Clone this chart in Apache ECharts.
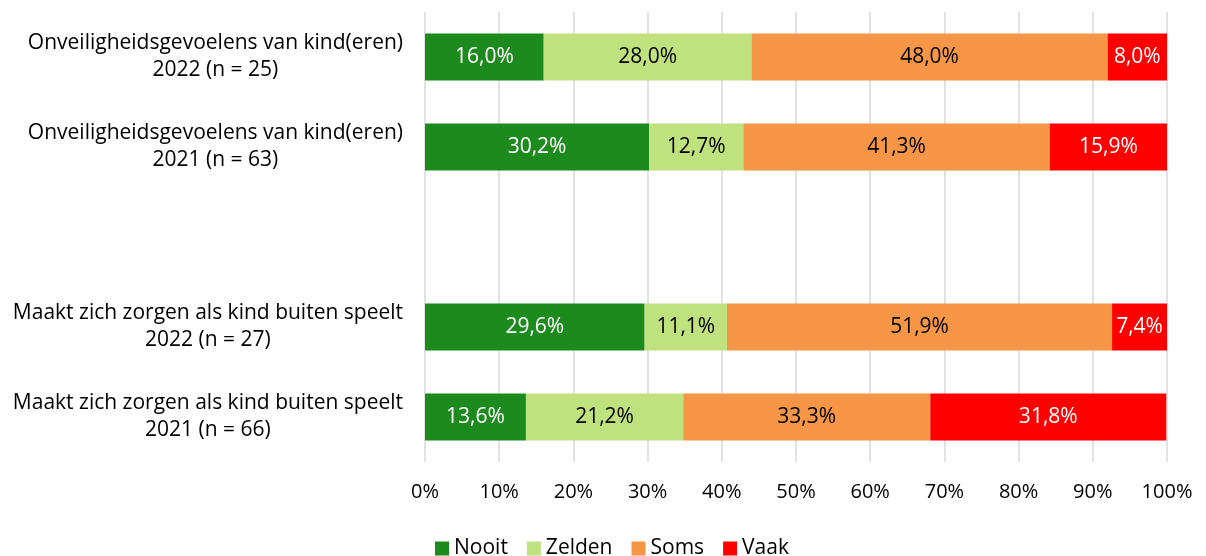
<!DOCTYPE html>
<html>
<head>
<meta charset="utf-8">
<script src="https://cdn.jsdelivr.net/npm/echarts@6/dist/echarts.min.js"></script>
<style>html,body{margin:0;padding:0;background:#fff}#c{width:1206px;height:556px}</style>
</head>
<body>
<div id="c"></div>
<script>
const categories = [
  ['Onveiligheidsgevoelens van kind(eren)', '2022 (n = 25)'],
  ['Onveiligheidsgevoelens van kind(eren)', '2021 (n = 63)'],
  ['', ''],
  ['Maakt zich zorgen als kind buiten speelt', '2022 (n = 27)'],
  ['Maakt zich zorgen als kind buiten speelt', '2021 (n = 66)']
];
const nooit  = [16.0, 30.2, '-', 29.6, 13.6];
const zelden = [28.0, 12.7, '-', 11.1, 21.2];
const soms   = [48.0, 41.3, '-', 51.9, 33.3];
const vaak   = [8.0, 15.9, '-', 7.4, 31.8];
const seriesNames = ['Nooit', 'Zelden', 'Soms', 'Vaak'];
const xTicks = [0, 10, 20, 30, 40, 50, 60, 70, 80, 90, 100];

const FONT = 'Open Sans';
const colors = ['#1D8A1E', '#BFE27E', '#F79646', '#FF0000'];
const labelColors = ['#fff', '#000', '#000', '#fff'];
const values = [nooit, zelden, soms, vaak];

const chart = echarts.init(document.getElementById('c'));
chart.setOption({
  animation: false,
  textStyle: { fontFamily: FONT },
  grid: { left: 425, right: 39, top: 12, bottom: 94, containLabel: false },
  legend: {
    top: 533, left: 430,
    data: seriesNames,
    icon: 'rect', itemWidth: 14, itemHeight: 14, itemGap: 19,
    textStyle: { fontFamily: FONT, fontSize: 21, color: '#000' }
  },
  xAxis: {
    type: 'value', min: 0, max: 100, interval: 10,
    axisLine: { show: false }, axisTick: { show: false },
    splitLine: { show: true, lineStyle: { color: '#D9D9D9', width: 1.5 } },
    axisLabel: { fontFamily: FONT, fontSize: 20, color: '#000', margin: 20,
      formatter: v => xTicks.includes(v) ? v + '%' : '' }
  },
  yAxis: {
    type: 'category', inverse: true,
    data: categories.map(c => c[0] + '\n' + c[1]),
    axisLine: { show: false }, axisTick: { show: false },
    axisLabel: {
      margin: 22, align: 'right',
      formatter: v => v.split('\n').map(s => '{a|' + s + '}').join('\n'),
      rich: { a: { align: 'center', fontFamily: FONT, fontSize: 21, color: '#000', lineHeight: 27 } }
    }
  },
  series: seriesNames.map((n, i) => ({
    name: n, type: 'bar', stack: 'total', barWidth: 47,
    data: values[i],
    itemStyle: { color: colors[i] },
    label: {
      show: true, position: 'inside', color: labelColors[i],
      fontFamily: FONT, fontSize: 21,
      formatter: p => p.value.toFixed(1).replace('.', ',') + '%'
    }
  }))
});
</script>
</body>
</html>
